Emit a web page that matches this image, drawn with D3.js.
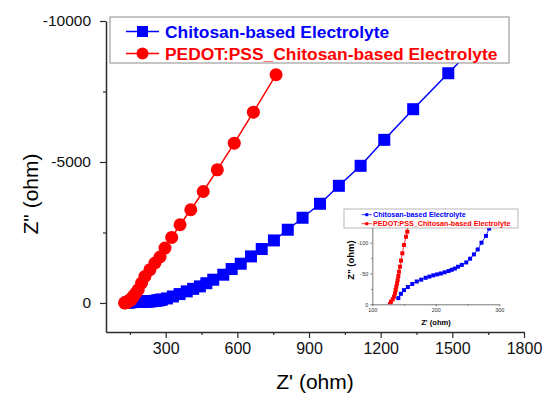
<!DOCTYPE html>
<html>
<head>
<meta charset="utf-8">
<script src="https://cdn.jsdelivr.net/npm/d3@7"></script>
<style>
  body { margin: 0; background: #fff; }
  svg { font-family: "Liberation Sans", Arial, sans-serif; }
</style>
</head>
<body>
<div id="vis"></div>
<script>
// Chitosan-based electrolyte (blue squares), Z' and Z'' in ohm
var blueZre = [141, 145, 150, 156, 163, 170, 177, 184, 190, 196, 202, 208, 214, 220, 225, 230, 235, 241, 248, 254, 260, 266, 272, 279, 284,
    305, 330, 358, 388, 415, 443, 470, 499, 541, 576, 614, 657, 702, 753, 811, 873, 946, 1025, 1116, 1215, 1336, 1483, 1636];
var blueZim = [-10, -17, -23, -28, -33, -37, -40, -43, -45, -47, -48.5, -50, -52, -54, -56, -58, -61, -64, -68, -74, -81, -89, -100, -111, -123,
    -160, -230, -315, -411, -500, -588, -700, -825, -1002, -1204, -1392, -1651, -1913, -2218, -2597, -3022, -3518, -4155, -4864, -5785, -6872, -8147, -9469];

// PEDOT:PSS_Chitosan-based electrolyte (red circles)
var redZre = [127.9, 129.4, 132.1, 134.2, 135.7, 136.8, 137.8, 139, 140, 141, 142, 143.6, 145.2, 147.3, 149.9, 153.1, 155.1,
    160, 164, 175, 185, 199, 213, 234, 255, 276, 297, 325, 360, 405, 457, 516, 587, 667, 762];
var redZim = [-0.5, -4.2, -8.1, -12.3, -17.8, -23.2, -28.6, -34, -39.4, -45.9, -52.9, -61, -70.8, -82.8, -96.3, -109.7, -117.9,
    -170, -234, -350, -471, -708, -942, -1180, -1417, -1629, -1948, -2324, -2774, -3305, -3953, -4722, -5668, -6766, -8098];

var seriesNames = ["Chitosan-based Electrolyte", "PEDOT:PSS_Chitosan-based Electrolyte"];

var xTicks = [300, 600, 900, 1200, 1500, 1800];
var xMinor = [150, 450, 750, 1050, 1350, 1650];
var yTicks = [0, -5000, -10000];
var yMinor = [-2500, -7500];

var inXTicks = [100, 200, 300];
var inXMinor = [150, 250];
var inYTicks = [0, -50, -100];
var inYMinor = [-25, -75, -125];

(function() {
    var width = 544, height = 394;
    var blue = "#0000ff", red = "#ff0000", axisCol = "#2b2b2b";

    var svg = d3.select("#vis").append("svg")
        .attr("width", width)
        .attr("height", height);

    svg.append("rect").attr("width", width).attr("height", height).attr("fill", "#fff");

    var blueData = blueZre.map(function(d, i) { return { x: d, y: blueZim[i] }; });
    var redData = redZre.map(function(d, i) { return { x: d, y: redZim[i] }; });

    // ---- main plot ----
    var x = d3.scaleLinear().domain([50, 1800]).range([106, 524]);
    var y = d3.scaleLinear().domain([1030, -10000]).range([332, 21]);

    var fmt = function(d) { return String(d); };

    function styleAxis(g, size) {
        g.select(".domain").attr("stroke", axisCol).attr("stroke-width", 1.5);
        g.selectAll(".tick line").attr("stroke", axisCol).attr("stroke-width", 1.2);
        g.selectAll(".tick text").attr("fill", "#111").style("font-size", size + "px");
    }

    var gx = svg.append("g").attr("transform", "translate(0,332)")
        .call(d3.axisBottom(x).tickValues(xTicks).tickFormat(fmt).tickSize(6).tickSizeOuter(0).tickPadding(5));
    styleAxis(gx, 16);
    var gxm = svg.append("g").attr("transform", "translate(0,332)")
        .call(d3.axisBottom(x).tickValues(xMinor).tickFormat("").tickSize(3).tickSizeOuter(0));
    gxm.select(".domain").remove();
    gxm.selectAll(".tick line").attr("stroke", axisCol).attr("stroke-width", 1.2);

    var gy = svg.append("g").attr("transform", "translate(106,0)")
        .call(d3.axisLeft(y).tickValues(yTicks).tickFormat(fmt).tickSize(6).tickSizeOuter(0).tickPadding(9));
    styleAxis(gy, 15.5);
    var gym = svg.append("g").attr("transform", "translate(106,0)")
        .call(d3.axisLeft(y).tickValues(yMinor).tickFormat("").tickSize(3).tickSizeOuter(0));
    gym.select(".domain").remove();
    gym.selectAll(".tick line").attr("stroke", axisCol).attr("stroke-width", 1.2);

    svg.append("text")
        .attr("x", 315).attr("y", 389)
        .attr("text-anchor", "middle")
        .style("font-size", "21px")
        .text("Z' (ohm)");

    svg.append("text")
        .attr("transform", "translate(38,194) rotate(-90)")
        .attr("text-anchor", "middle")
        .style("font-size", "21px")
        .text('Z" (ohm)');

    var line = d3.line().x(function(d) { return x(d.x); }).y(function(d) { return y(d.y); });

    svg.append("path").datum(blueData)
        .attr("d", line).attr("fill", "none").attr("stroke", blue).attr("stroke-width", 1.5);
    svg.selectAll(".bsq").data(blueData).enter().append("rect")
        .attr("class", "bsq")
        .attr("x", function(d) { return x(d.x) - 6; })
        .attr("y", function(d) { return y(d.y) - 6; })
        .attr("width", 12).attr("height", 12)
        .attr("fill", blue);

    svg.append("path").datum(redData)
        .attr("d", line).attr("fill", "none").attr("stroke", red).attr("stroke-width", 1.5);
    svg.selectAll(".rc").data(redData).enter().append("circle")
        .attr("class", "rc")
        .attr("cx", function(d) { return x(d.x); })
        .attr("cy", function(d) { return y(d.y); })
        .attr("r", 6.5)
        .attr("fill", red);

    // legend
    var leg = svg.append("g");
    leg.append("rect").attr("x", 110).attr("y", 17).attr("width", 399).attr("height", 46)
        .attr("fill", "#fff").attr("stroke", "#8a8a8a").attr("stroke-width", 1);
    leg.append("line").attr("x1", 126).attr("x2", 159).attr("y1", 31.5).attr("y2", 31.5)
        .attr("stroke", blue).attr("stroke-width", 1.5);
    leg.append("rect").attr("x", 142.5 - 5.5).attr("y", 31.5 - 5.5).attr("width", 11).attr("height", 11).attr("fill", blue);
    leg.append("text").attr("x", 165).attr("y", 37.5).attr("fill", blue)
        .style("font-size", "17.4px").style("font-weight", "bold").text(seriesNames[0]);
    leg.append("line").attr("x1", 126).attr("x2", 159).attr("y1", 53.5).attr("y2", 53.5)
        .attr("stroke", red).attr("stroke-width", 1.5);
    leg.append("circle").attr("cx", 142.5).attr("cy", 53.5).attr("r", 6).attr("fill", red);
    leg.append("text").attr("x", 165).attr("y", 59.5).attr("fill", red)
        .style("font-size", "17.4px").style("font-weight", "bold").text(seriesNames[1]);

    // ---- inset ----
    var xi = d3.scaleLinear().domain([100, 300]).range([372.3, 499.3]);
    var yi = d3.scaleLinear().domain([0, -130]).range([304.3, 224.2]);
    var inset = svg.append("g");

    inset.append("clipPath").attr("id", "inclip").append("rect")
        .attr("x", 372.3).attr("y", 224.2).attr("width", 127).attr("height", 80.1);

    var ix = inset.append("g").attr("transform", "translate(0,304.3)")
        .call(d3.axisBottom(xi).tickValues(inXTicks).tickFormat(fmt).tickSize(2).tickSizeOuter(0).tickPadding(1.5));
    var ixm = inset.append("g").attr("transform", "translate(0,304.3)")
        .call(d3.axisBottom(xi).tickValues(inXMinor).tickFormat("").tickSize(1.2).tickSizeOuter(0));
    var iy = inset.append("g").attr("transform", "translate(372.3,0)")
        .call(d3.axisLeft(yi).tickValues(inYTicks).tickFormat(fmt).tickSize(2).tickSizeOuter(0).tickPadding(2));
    var iym = inset.append("g").attr("transform", "translate(372.3,0)")
        .call(d3.axisLeft(yi).tickValues(inYMinor).tickFormat("").tickSize(1.2).tickSizeOuter(0));
    [ix, ixm, iy, iym].forEach(function(g) {
        g.select(".domain").attr("stroke", "#555").attr("stroke-width", 0.8);
        g.selectAll(".tick line").attr("stroke", "#555").attr("stroke-width", 0.8);
        g.selectAll(".tick text").attr("fill", "#333").style("font-size", "5.5px");
    });
    ixm.select(".domain").remove();
    iym.select(".domain").remove();

    inset.append("text").attr("x", 436).attr("y", 324.5).attr("text-anchor", "middle")
        .style("font-size", "7.6px").style("font-weight", "bold").text("Z' (ohm)");
    inset.append("text").attr("transform", "translate(354,260) rotate(-90)").attr("text-anchor", "middle")
        .style("font-size", "9.5px").style("font-weight", "bold").text('Z" (ohm)');

    var iline = d3.line().x(function(d) { return xi(d.x); }).y(function(d) { return yi(d.y); });
    var plot = inset.append("g").attr("clip-path", "url(#inclip)");

    plot.append("path").datum(redData).attr("d", iline).attr("fill", "none").attr("stroke", red).attr("stroke-width", 0.8);
    plot.selectAll(".irs").data(redData).enter().append("rect")
        .attr("x", function(d) { return xi(d.x) - 2; })
        .attr("y", function(d) { return yi(d.y) - 2; })
        .attr("width", 4).attr("height", 4).attr("fill", red);
    plot.append("path").datum(blueData).attr("d", iline).attr("fill", "none").attr("stroke", blue).attr("stroke-width", 0.8);
    plot.selectAll(".ibs").data(blueData).enter().append("rect")
        .attr("x", function(d) { return xi(d.x) - 2; })
        .attr("y", function(d) { return yi(d.y) - 2; })
        .attr("width", 4).attr("height", 4).attr("fill", blue);

    var ileg = inset.append("g");
    ileg.append("rect").attr("x", 344).attr("y", 209).attr("width", 174).attr("height", 19)
        .attr("fill", "#fff").attr("stroke", "#999").attr("stroke-width", 0.7);
    ileg.append("line").attr("x1", 361.7).attr("x2", 371.7).attr("y1", 214.7).attr("y2", 214.7)
        .attr("stroke", blue).attr("stroke-width", 0.8);
    ileg.append("rect").attr("x", 365.2).attr("y", 213.2).attr("width", 3).attr("height", 3).attr("fill", blue);
    ileg.append("text").attr("x", 373).attr("y", 217.3).attr("fill", blue)
        .style("font-size", "7.2px").style("font-weight", "bold").text(seriesNames[0]);
    ileg.append("line").attr("x1", 361.7).attr("x2", 371.7).attr("y1", 223.7).attr("y2", 223.7)
        .attr("stroke", red).attr("stroke-width", 0.8);
    ileg.append("rect").attr("x", 365.2).attr("y", 222.2).attr("width", 3).attr("height", 3).attr("fill", red);
    ileg.append("text").attr("x", 373).attr("y", 226.3).attr("fill", red)
        .style("font-size", "7.2px").style("font-weight", "bold").text(seriesNames[1]);
})();
</script>
</body>
</html>
